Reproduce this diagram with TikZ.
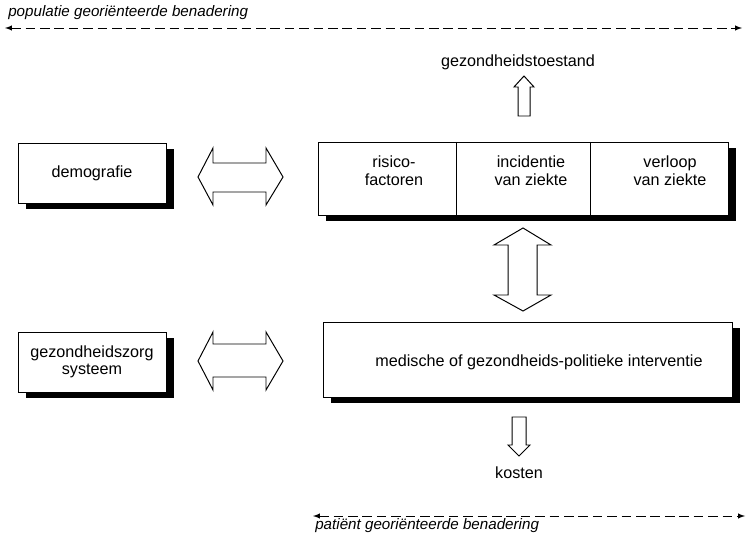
\documentclass[tikz,border=0pt]{standalone}
\usepackage{fontspec}
\setmainfont{Liberation Sans}
\usepackage{tikz}
\usetikzlibrary{shadows}

\begin{document}
\begin{tikzpicture}[x=0.025cm,y=-0.025cm,
  box/.style={draw,line width=0.6pt,fill=white,inner sep=0pt,
    drop shadow={fill=black,opacity=1,shadow xshift=2.1mm,shadow yshift=-1.6mm}},
  fat/.style={draw,line width=0.7pt,fill=white,line join=miter},
  approach/.style={<->,>=latex,line width=0.7pt,dash pattern=on 2.4mm off 1.2mm},
  txt/.style={font=\fontsize{11.5}{12.5}\selectfont,align=center,inner sep=0pt},
  lbl/.style={anchor=base west,inner sep=0pt,font=\fontsize{10.8}{12}\selectfont\itshape}]
\useasboundingbox (0,0) rectangle (748,543);
% population approach
\coordinate (popL) at (5,28);
\coordinate (popR) at (742,28);
\draw[approach] (popL) -- (popR);
\node[lbl] (poplabel) at (8,17) {populatie georiënteerde benadering};
% left boxes
\node[box,txt,minimum width=3.7cm,minimum height=1.5cm] (demo) at (92,173) {demografie};
\node[box,txt,minimum width=3.7cm,minimum height=1.5cm] (zorg) at (92,362) {gezondheidszorg\\systeem};
% disease box
\node[box,minimum width=10.25cm,minimum height=1.825cm] (ziekte) at (523,178.5) {};
\draw[line width=0.6pt] (456,142) -- (456,215);
\draw[line width=0.6pt] (590,142) -- (590,215);
\node[txt] (risico) at (394,171) {risico-\\factoren};
\node[txt] (incid) at (531,171) {incidentie\\van ziekte};
\node[txt] (verloop) at (670,171) {verloop\\van ziekte};
% intervention box
\node[box,minimum width=10.225cm,minimum height=1.875cm] (interv) at (527.5,359.5) {};
\node[txt] (intervtxt) at (539,362) {medische of gezondheids-politieke interventie};
% outcomes
\node[txt] (toestand) at (518,62) {gezondheidstoestand};
\node[txt] (kosten) at (519,473) {kosten};
% fat arrows
\draw[fat] (518,116) -- (518,87) -- (514,87) -- (524,76) -- (534,87) -- (530,87) -- (530,116) -- cycle;
\draw[fat] (198,177) -- (213,148) -- (213,163) -- (266,163) -- (266,148) -- (283,177)
  -- (266,205) -- (266,192) -- (213,192) -- (213,205) -- cycle;
\draw[fat] (198,361) -- (213,332) -- (213,344) -- (266,344) -- (266,332) -- (283,361)
  -- (266,390) -- (266,377) -- (213,377) -- (213,390) -- cycle;
\draw[fat] (523,228) -- (551,245) -- (537,245) -- (537,295) -- (551,295) -- (523,311)
  -- (494,295) -- (508,295) -- (508,245) -- (494,245) -- cycle;
\draw[fat] (512,417) -- (526,417) -- (526,445) -- (530,445) -- (519,456) -- (508,445) -- (512,445) -- cycle;
% patient approach
\coordinate (patL) at (313,516);
\coordinate (patR) at (745,516);
\draw[approach] (patL) -- (patR);
\node[lbl] (patlabel) at (315,529) {patiënt georiënteerde benadering};
\end{tikzpicture}
\end{document}
